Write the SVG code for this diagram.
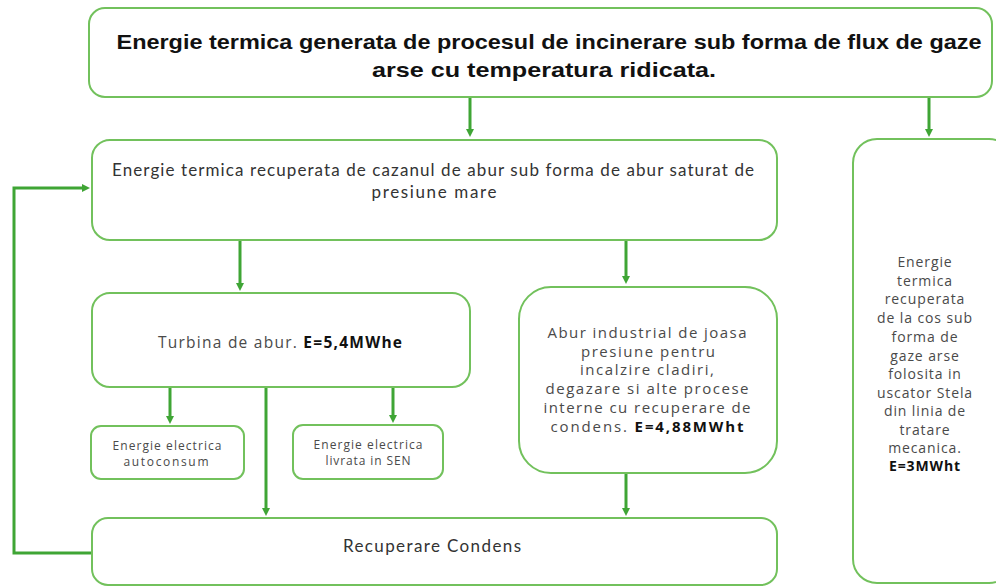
<svg xmlns="http://www.w3.org/2000/svg" width="996" height="588" viewBox="0 0 996 588">
<defs>
<marker id="ah" markerWidth="8" markerHeight="8" refX="4" refY="4" orient="auto" markerUnits="userSpaceOnUse">
<path d="M0,0 L8,4 L0,8 Z" fill="#3fa535"/>
</marker>
<style>
.box{fill:#fff;stroke:#72c15c;stroke-width:2}
.con{fill:none;stroke:#3fa535;stroke-width:3}
.t{font-family:"Open Sans","Liberation Sans",sans-serif;fill:#4a4a4a;text-anchor:middle}
.l{font-family:Lato,"Liberation Sans",sans-serif;fill:#333;text-anchor:middle}
.tb{font-family:"Liberation Sans",sans-serif;font-weight:bold;fill:#111;text-anchor:middle}
.b{font-weight:bold;fill:#111}
</style>
</defs>
<rect width="996" height="588" fill="#fff"/>
<g id="connectors">
<line class="con" x1="470" y1="98" x2="470" y2="133" marker-end="url(#ah)"/>
<line class="con" x1="929" y1="98" x2="929" y2="133" marker-end="url(#ah)"/>
<line class="con" x1="240" y1="241" x2="240" y2="287" marker-end="url(#ah)"/>
<line class="con" x1="626" y1="241" x2="626" y2="280" marker-end="url(#ah)"/>
<line class="con" x1="170" y1="388" x2="170" y2="420" marker-end="url(#ah)"/>
<line class="con" x1="393" y1="388" x2="393" y2="419" marker-end="url(#ah)"/>
<line class="con" x1="266" y1="388" x2="266" y2="512" marker-end="url(#ah)"/>
<line class="con" x1="626" y1="474" x2="626" y2="512" marker-end="url(#ah)"/>
<polyline class="con" points="92,553 14,553 14,188 86,188" marker-end="url(#ah)"/>
</g>
<g id="n-top">
<rect class="box" x="89" y="8" width="903" height="89" rx="16"/>
<text class="tb" font-size="21" x="549" y="49" textLength="865" lengthAdjust="spacingAndGlyphs">Energie termica generata de procesul de incinerare sub forma de flux de gaze</text>
<text class="tb" font-size="21" x="544" y="77" textLength="344" lengthAdjust="spacingAndGlyphs">arse cu temperatura ridicata.</text>
</g>
<g id="n-cazan">
<rect class="box" x="92" y="140" width="685" height="100" rx="18"/>
<text class="l" font-size="17" x="433" y="176" textLength="642">Energie termica recuperata de cazanul de abur sub forma de abur saturat de</text>
<text class="l" font-size="17" x="434" y="198" textLength="125">presiune mare</text>
</g>
<g id="n-turbina">
<rect class="box" x="92" y="293" width="378" height="94" rx="18"/>
<text class="t" font-size="15.5" x="280" y="348" textLength="244">Turbina de abur. <tspan class="b">E=5,4MWhe</tspan></text>
</g>
<g id="n-autoconsum">
<rect class="box" x="91" y="426" width="153" height="53" rx="10"/>
<text class="t" font-size="12" x="167" y="450" textLength="109">Energie electrica</text>
<text class="t" font-size="12" x="166" y="466" textLength="85">autoconsum</text>
</g>
<g id="n-sen">
<rect class="box" x="293" y="425" width="150" height="54" rx="10"/>
<text class="t" font-size="12" x="368" y="449" textLength="109">Energie electrica</text>
<text class="t" font-size="12" x="368" y="465" textLength="85">livrata in SEN</text>
</g>
<g id="n-abur">
<rect class="box" x="519" y="287" width="258" height="186" rx="32"/>
<text class="t" font-size="15" x="647" y="338" textLength="199">Abur industrial de joasa</text>
<text class="t" font-size="15" x="648" y="357" textLength="134">presiune pentru</text>
<text class="t" font-size="15" x="647" y="375" textLength="134">incalzire cladiri,</text>
<text class="t" font-size="15" x="647" y="394" textLength="203">degazare si alte procese</text>
<text class="t" font-size="15" x="647" y="413" textLength="207">interne cu recuperare de</text>
<text class="t" font-size="15" x="647" y="432" textLength="193">condens. <tspan class="b">E=4,88MWht</tspan></text>
</g>
<g id="n-cos">
<rect class="box" x="853" y="139" width="160" height="444" rx="24"/>
<g font-size="14" letter-spacing="0.9">
<text class="t" x="925" y="267">Energie</text>
<text class="t" x="925" y="286">termica</text>
<text class="t" x="925" y="304">recuperata</text>
<text class="t" x="925" y="323">de la cos sub</text>
<text class="t" x="925" y="342">forma de</text>
<text class="t" x="925" y="361">gaze arse</text>
<text class="t" x="925" y="379">folosita in</text>
<text class="t" x="925" y="398">uscator Stela</text>
<text class="t" x="925" y="416">din linia de</text>
<text class="t" x="925" y="435">tratare</text>
<text class="t" x="925" y="453">mecanica.</text>
<text class="t b" x="925" y="471">E=3MWht</text>
</g>
</g>
<g id="n-condens">
<rect class="box" x="92" y="518" width="685" height="67" rx="16"/>
<text class="l" font-size="17" x="432" y="552" textLength="178">Recuperare Condens</text>
</g>
</svg>
